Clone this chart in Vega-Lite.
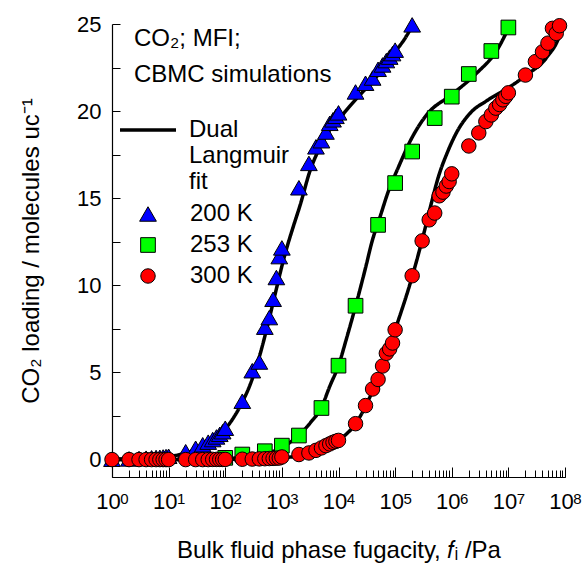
{
  "$schema": "https://vega.github.io/schema/vega-lite/v6.json",
  "width": 453,
  "height": 453,
  "autosize": {"type": "none"},
  "padding": {"left": 112, "top": 24, "right": 19, "bottom": 88},
  "background": "white",
  "config": {
    "view": {"stroke": null},
    "font": "Liberation Sans",
    "axis": {"grid": false, "domainColor": "black", "domainWidth": 1.2, "tickColor": "black", "tickWidth": 1, "labelColor": "black", "titleColor": "black", "labelFont": "Liberation Sans", "titleFont": "Liberation Sans", "titleFontWeight": "normal", "labelOverlap": false, "labelFlush": false, "labelBound": false},
    "legend": {"labelFont": "Liberation Sans", "labelColor": "black", "padding": 0}
  },
  "title": {
    "text": ["CO₂; MFI;", "CBMC simulations"],
    "anchor": "start",
    "frame": "group",
    "orient": "top",
    "offset": 0,
    "dx": 22,
    "dy": 93,
    "fontSize": 24,
    "fontWeight": "normal",
    "font": "Liberation Sans",
    "lineHeight": 36,
    "baseline": "alphabetic",
    "color": "black"
  },
  "datasets": {
    "points": [
      {"T": "200 K", "f": 1, "q": 0.02}, {"T": "200 K", "f": 2, "q": 0.04}, {"T": "200 K", "f": 3, "q": 0.06}, {"T": "200 K", "f": 4, "q": 0.08}, {"T": "200 K", "f": 5, "q": 0.1}, {"T": "200 K", "f": 6, "q": 0.12}, {"T": "200 K", "f": 7, "q": 0.13}, {"T": "200 K", "f": 8, "q": 0.15}, {"T": "200 K", "f": 9, "q": 0.17}, {"T": "200 K", "f": 10, "q": 0.19},
      {"T": "200 K", "f": 20, "q": 0.45}, {"T": "200 K", "f": 30, "q": 0.65}, {"T": "200 K", "f": 40, "q": 0.85}, {"T": "200 K", "f": 50, "q": 1.0}, {"T": "200 K", "f": 60, "q": 1.15}, {"T": "200 K", "f": 70, "q": 1.3}, {"T": "200 K", "f": 80, "q": 1.45}, {"T": "200 K", "f": 90, "q": 1.6}, {"T": "200 K", "f": 100, "q": 1.8},
      {"T": "200 K", "f": 200, "q": 3.35}, {"T": "200 K", "f": 300, "q": 5.1}, {"T": "200 K", "f": 400, "q": 5.6}, {"T": "200 K", "f": 500, "q": 7.6}, {"T": "200 K", "f": 600, "q": 8.15}, {"T": "200 K", "f": 700, "q": 9.2}, {"T": "200 K", "f": 800, "q": 10.45}, {"T": "200 K", "f": 900, "q": 11.65}, {"T": "200 K", "f": 1000, "q": 12.15},
      {"T": "200 K", "f": 2000, "q": 15.6}, {"T": "200 K", "f": 3000, "q": 17.0}, {"T": "200 K", "f": 4000, "q": 17.95}, {"T": "200 K", "f": 5000, "q": 18.3}, {"T": "200 K", "f": 6000, "q": 18.8}, {"T": "200 K", "f": 7000, "q": 19.3}, {"T": "200 K", "f": 8000, "q": 19.5}, {"T": "200 K", "f": 9000, "q": 19.7}, {"T": "200 K", "f": 10000, "q": 19.9},
      {"T": "200 K", "f": 20000, "q": 21.1}, {"T": "200 K", "f": 30000, "q": 21.6}, {"T": "200 K", "f": 40000, "q": 21.9}, {"T": "200 K", "f": 50000, "q": 22.4}, {"T": "200 K", "f": 60000, "q": 22.65}, {"T": "200 K", "f": 70000, "q": 22.9}, {"T": "200 K", "f": 80000, "q": 23.1}, {"T": "200 K", "f": 90000, "q": 23.3}, {"T": "200 K", "f": 100000, "q": 23.5},
      {"T": "200 K", "f": 200000, "q": 24.95},
      {"T": "253 K", "f": 100, "q": 0.1}, {"T": "253 K", "f": 200, "q": 0.29}, {"T": "253 K", "f": 500, "q": 0.48}, {"T": "253 K", "f": 1000, "q": 0.8}, {"T": "253 K", "f": 2000, "q": 1.38}, {"T": "253 K", "f": 5000, "q": 2.96}, {"T": "253 K", "f": 10000, "q": 5.39}, {"T": "253 K", "f": 20000, "q": 8.83}, {"T": "253 K", "f": 50000, "q": 13.47}, {"T": "253 K", "f": 100000, "q": 15.87}, {"T": "253 K", "f": 200000, "q": 17.68}, {"T": "253 K", "f": 500000, "q": 19.6}, {"T": "253 K", "f": 1000000, "q": 20.83}, {"T": "253 K", "f": 2000000, "q": 22.13}, {"T": "253 K", "f": 5000000, "q": 23.45}, {"T": "253 K", "f": 10000000, "q": 24.8},
      {"T": "300 K", "f": 1, "q": 0.0}, {"T": "300 K", "f": 2, "q": 0.0}, {"T": "300 K", "f": 3, "q": 0.0}, {"T": "300 K", "f": 4, "q": 0.0}, {"T": "300 K", "f": 5, "q": 0.0}, {"T": "300 K", "f": 6, "q": 0.0}, {"T": "300 K", "f": 7, "q": 0.0}, {"T": "300 K", "f": 8, "q": 0.0}, {"T": "300 K", "f": 9, "q": 0.0}, {"T": "300 K", "f": 10, "q": 0.0},
      {"T": "300 K", "f": 20, "q": 0.0}, {"T": "300 K", "f": 30, "q": 0.0}, {"T": "300 K", "f": 40, "q": 0.0}, {"T": "300 K", "f": 50, "q": 0.0}, {"T": "300 K", "f": 60, "q": 0.01}, {"T": "300 K", "f": 70, "q": 0.01}, {"T": "300 K", "f": 80, "q": 0.01}, {"T": "300 K", "f": 90, "q": 0.01}, {"T": "300 K", "f": 100, "q": 0.01},
      {"T": "300 K", "f": 200, "q": 0.02}, {"T": "300 K", "f": 300, "q": 0.03}, {"T": "300 K", "f": 400, "q": 0.04}, {"T": "300 K", "f": 500, "q": 0.05}, {"T": "300 K", "f": 600, "q": 0.06}, {"T": "300 K", "f": 700, "q": 0.07}, {"T": "300 K", "f": 800, "q": 0.08}, {"T": "300 K", "f": 900, "q": 0.09}, {"T": "300 K", "f": 1000, "q": 0.15},
      {"T": "300 K", "f": 2000, "q": 0.29}, {"T": "300 K", "f": 3000, "q": 0.38}, {"T": "300 K", "f": 4000, "q": 0.53}, {"T": "300 K", "f": 5000, "q": 0.67}, {"T": "300 K", "f": 6000, "q": 0.8}, {"T": "300 K", "f": 7000, "q": 0.9}, {"T": "300 K", "f": 8000, "q": 0.99}, {"T": "300 K", "f": 9000, "q": 1.05}, {"T": "300 K", "f": 10000, "q": 1.1},
      {"T": "300 K", "f": 20000, "q": 2.06}, {"T": "300 K", "f": 30000, "q": 3.1}, {"T": "300 K", "f": 40000, "q": 4.05}, {"T": "300 K", "f": 50000, "q": 4.6}, {"T": "300 K", "f": 60000, "q": 5.37}, {"T": "300 K", "f": 70000, "q": 6.1}, {"T": "300 K", "f": 80000, "q": 6.35}, {"T": "300 K", "f": 90000, "q": 6.69}, {"T": "300 K", "f": 100000, "q": 7.45},
      {"T": "300 K", "f": 200000, "q": 10.55}, {"T": "300 K", "f": 300000, "q": 12.55}, {"T": "300 K", "f": 400000, "q": 13.76}, {"T": "300 K", "f": 500000, "q": 14.15}, {"T": "300 K", "f": 600000, "q": 15.14}, {"T": "300 K", "f": 700000, "q": 15.35}, {"T": "300 K", "f": 800000, "q": 15.7}, {"T": "300 K", "f": 900000, "q": 15.96}, {"T": "300 K", "f": 1000000, "q": 16.4},
      {"T": "300 K", "f": 2000000, "q": 18.0}, {"T": "300 K", "f": 3000000, "q": 18.75}, {"T": "300 K", "f": 4000000, "q": 19.4}, {"T": "300 K", "f": 5000000, "q": 19.78}, {"T": "300 K", "f": 6000000, "q": 20.17}, {"T": "300 K", "f": 7000000, "q": 20.38}, {"T": "300 K", "f": 8000000, "q": 20.65}, {"T": "300 K", "f": 9000000, "q": 20.85}, {"T": "300 K", "f": 10000000, "q": 21.05},
      {"T": "300 K", "f": 20000000, "q": 22.07}, {"T": "300 K", "f": 30000000, "q": 22.84}, {"T": "300 K", "f": 40000000, "q": 23.4}, {"T": "300 K", "f": 50000000, "q": 23.9}, {"T": "300 K", "f": 60000000, "q": 24.75}, {"T": "300 K", "f": 70000000, "q": 24.46}, {"T": "300 K", "f": 80000000, "q": 24.9}
    ],
    "fits": [
      {"T": "200 K", "fit": "Dual Langmuir fit", "f": 1, "q": 0.02}, {"T": "200 K", "fit": "Dual Langmuir fit", "f": 10, "q": 0.18}, {"T": "200 K", "fit": "Dual Langmuir fit", "f": 20, "q": 0.38}, {"T": "200 K", "fit": "Dual Langmuir fit", "f": 50, "q": 0.92}, {"T": "200 K", "fit": "Dual Langmuir fit", "f": 100, "q": 1.75}, {"T": "200 K", "fit": "Dual Langmuir fit", "f": 200, "q": 3.3}, {"T": "200 K", "fit": "Dual Langmuir fit", "f": 275, "q": 4.3}, {"T": "200 K", "fit": "Dual Langmuir fit", "f": 400, "q": 5.9}, {"T": "200 K", "fit": "Dual Langmuir fit", "f": 550, "q": 7.6}, {"T": "200 K", "fit": "Dual Langmuir fit", "f": 800, "q": 9.8}, {"T": "200 K", "fit": "Dual Langmuir fit", "f": 1000, "q": 11.1}, {"T": "200 K", "fit": "Dual Langmuir fit", "f": 1260, "q": 12.3}, {"T": "200 K", "fit": "Dual Langmuir fit", "f": 1600, "q": 13.4}, {"T": "200 K", "fit": "Dual Langmuir fit", "f": 2100, "q": 14.6}, {"T": "200 K", "fit": "Dual Langmuir fit", "f": 3160, "q": 16.6}, {"T": "200 K", "fit": "Dual Langmuir fit", "f": 4500, "q": 17.8}, {"T": "200 K", "fit": "Dual Langmuir fit", "f": 6300, "q": 18.7}, {"T": "200 K", "fit": "Dual Langmuir fit", "f": 10000, "q": 19.5}, {"T": "200 K", "fit": "Dual Langmuir fit", "f": 16000, "q": 20.3}, {"T": "200 K", "fit": "Dual Langmuir fit", "f": 25000, "q": 21.0}, {"T": "200 K", "fit": "Dual Langmuir fit", "f": 40000, "q": 21.7}, {"T": "200 K", "fit": "Dual Langmuir fit", "f": 63000, "q": 22.5}, {"T": "200 K", "fit": "Dual Langmuir fit", "f": 100000, "q": 23.4}, {"T": "200 K", "fit": "Dual Langmuir fit", "f": 158000, "q": 24.3}, {"T": "200 K", "fit": "Dual Langmuir fit", "f": 200000, "q": 24.9},
      {"T": "253 K", "fit": "Dual Langmuir fit", "f": 1, "q": 0.001}, {"T": "253 K", "fit": "Dual Langmuir fit", "f": 10, "q": 0.006}, {"T": "253 K", "fit": "Dual Langmuir fit", "f": 100, "q": 0.06}, {"T": "253 K", "fit": "Dual Langmuir fit", "f": 200, "q": 0.13}, {"T": "253 K", "fit": "Dual Langmuir fit", "f": 500, "q": 0.33}, {"T": "253 K", "fit": "Dual Langmuir fit", "f": 1000, "q": 0.7}, {"T": "253 K", "fit": "Dual Langmuir fit", "f": 2000, "q": 1.4}, {"T": "253 K", "fit": "Dual Langmuir fit", "f": 3160, "q": 2.1}, {"T": "253 K", "fit": "Dual Langmuir fit", "f": 5000, "q": 3.0}, {"T": "253 K", "fit": "Dual Langmuir fit", "f": 7000, "q": 4.2}, {"T": "253 K", "fit": "Dual Langmuir fit", "f": 10000, "q": 5.4}, {"T": "253 K", "fit": "Dual Langmuir fit", "f": 14000, "q": 7.0}, {"T": "253 K", "fit": "Dual Langmuir fit", "f": 20000, "q": 8.8}, {"T": "253 K", "fit": "Dual Langmuir fit", "f": 30000, "q": 11.0}, {"T": "253 K", "fit": "Dual Langmuir fit", "f": 39000, "q": 12.5}, {"T": "253 K", "fit": "Dual Langmuir fit", "f": 55000, "q": 14.0}, {"T": "253 K", "fit": "Dual Langmuir fit", "f": 76000, "q": 15.4}, {"T": "253 K", "fit": "Dual Langmuir fit", "f": 115000, "q": 16.8}, {"T": "253 K", "fit": "Dual Langmuir fit", "f": 186000, "q": 18.3}, {"T": "253 K", "fit": "Dual Langmuir fit", "f": 363000, "q": 19.8}, {"T": "253 K", "fit": "Dual Langmuir fit", "f": 1000000, "q": 20.95}, {"T": "253 K", "fit": "Dual Langmuir fit", "f": 2800000, "q": 22.2}, {"T": "253 K", "fit": "Dual Langmuir fit", "f": 6300000, "q": 23.5}, {"T": "253 K", "fit": "Dual Langmuir fit", "f": 10000000, "q": 24.75},
      {"T": "300 K", "fit": "Dual Langmuir fit", "f": 1, "q": 0.0001}, {"T": "300 K", "fit": "Dual Langmuir fit", "f": 100, "q": 0.011}, {"T": "300 K", "fit": "Dual Langmuir fit", "f": 1000, "q": 0.11}, {"T": "300 K", "fit": "Dual Langmuir fit", "f": 3000, "q": 0.33}, {"T": "300 K", "fit": "Dual Langmuir fit", "f": 10000, "q": 1.1}, {"T": "300 K", "fit": "Dual Langmuir fit", "f": 20000, "q": 2.06}, {"T": "300 K", "fit": "Dual Langmuir fit", "f": 30000, "q": 3.05}, {"T": "300 K", "fit": "Dual Langmuir fit", "f": 40000, "q": 3.95}, {"T": "300 K", "fit": "Dual Langmuir fit", "f": 50000, "q": 4.7}, {"T": "300 K", "fit": "Dual Langmuir fit", "f": 70000, "q": 6.0}, {"T": "300 K", "fit": "Dual Langmuir fit", "f": 100000, "q": 7.45}, {"T": "300 K", "fit": "Dual Langmuir fit", "f": 200000, "q": 10.5}, {"T": "300 K", "fit": "Dual Langmuir fit", "f": 300000, "q": 12.6}, {"T": "300 K", "fit": "Dual Langmuir fit", "f": 420000, "q": 14.5}, {"T": "300 K", "fit": "Dual Langmuir fit", "f": 590000, "q": 16.3}, {"T": "300 K", "fit": "Dual Langmuir fit", "f": 830000, "q": 17.6}, {"T": "300 K", "fit": "Dual Langmuir fit", "f": 1230000, "q": 18.8}, {"T": "300 K", "fit": "Dual Langmuir fit", "f": 2140000, "q": 19.9}, {"T": "300 K", "fit": "Dual Langmuir fit", "f": 4170000, "q": 20.6}, {"T": "300 K", "fit": "Dual Langmuir fit", "f": 9550000, "q": 21.3}, {"T": "300 K", "fit": "Dual Langmuir fit", "f": 21400000, "q": 22.1}, {"T": "300 K", "fit": "Dual Langmuir fit", "f": 47900000, "q": 23.1}, {"T": "300 K", "fit": "Dual Langmuir fit", "f": 83000000, "q": 24.5}, {"T": "300 K", "fit": "Dual Langmuir fit", "f": 90000000, "q": 24.9}
    ]
  },
  "layer": [
    {
      "data": {"name": "fits"},
      "mark": {"type": "line", "color": "black", "strokeWidth": 3.5, "interpolate": "monotone"},
      "encoding": {
        "x": {"field": "f", "type": "quantitative", "scale": {"type": "log", "domain": [1, 100000000]},
          "axis": {"orient": "bottom", "values": [1, 10, 100, 1000, 10000, 100000, 1000000, 10000000, 100000000], "tickSize": -10, "labelExpr": "'10'", "labelFontSize": 22, "labelOffset": -4, "labelPadding": 24, "title": "Bulk fluid phase fugacity, 𝑓ᵢ /Pa", "titleFontSize": 24, "titlePadding": 26}},
        "y": {"field": "q", "type": "quantitative", "scale": {"domain": [-1, 25], "nice": false, "zero": false},
          "axis": {"values": [0, 2.5, 5, 7.5, 10, 12.5, 15, 17.5, 20, 22.5, 25], "tickSize": -8, "labelExpr": "datum.value % 5 === 0 ? datum.label : ''", "labelFontSize": 22, "labelPadding": 19, "title": "CO₂ loading / molecules uc⁻¹", "titleFontSize": 24, "titlePadding": 33}},
        "detail": {"field": "T"},
        "strokeDash": {"field": "fit", "type": "nominal", "scale": {"range": [[1, 0]]},
          "legend": {"orient": "none", "legendX": 6, "legendY": 76, "title": null, "symbolType": "M-1,0L1,0", "symbolSize": 3136, "symbolStrokeWidth": 3.5, "symbolStrokeColor": "black", "labelOffset": 11, "labelFontSize": 24, "labelBaseline": "middle", "labelExpr": "['Dual', 'Langmuir', 'fit']"}}
      }
    },
    {
      "data": {"name": "points"},
      "mark": {"type": "point", "filled": true, "stroke": "black", "strokeWidth": 1, "opacity": 1},
      "encoding": {
        "x": {"field": "f", "type": "quantitative", "scale": {"type": "log", "domain": [1, 100000000]},
          "axis": {"orient": "bottom", "domain": false, "values": [1,2,3,4,5,6,7,8,9,10,20,30,40,50,60,70,80,90,100,200,300,400,500,600,700,800,900,1000,2000,3000,4000,5000,6000,7000,8000,9000,10000,20000,30000,40000,50000,60000,70000,80000,90000,100000,200000,300000,400000,500000,600000,700000,800000,900000,1000000,2000000,3000000,4000000,5000000,6000000,7000000,8000000,9000000,10000000,20000000,30000000,40000000,50000000,60000000,70000000,80000000,90000000,100000000], "tickSize": -7, "labelExpr": "abs(log(datum.value)/LN10 - round(log(datum.value)/LN10)) < 0.001 ? format(round(log(datum.value)/LN10), 'd') : ''", "labelFontSize": 15, "labelOffset": 12, "labelPadding": 21, "title": null}},
        "y": {"field": "q", "type": "quantitative", "scale": {"domain": [-1, 25], "nice": false, "zero": false},
          "axis": {"values": [0, 2.5, 5, 7.5, 10, 12.5, 15, 17.5, 20, 22.5, 25], "tickSize": -8, "labelExpr": "datum.value % 5 === 0 ? datum.label : ''", "labelFontSize": 22, "labelPadding": 19, "title": "CO₂ loading / molecules uc⁻¹", "titleFontSize": 24, "titlePadding": 33}},
        "color": {"field": "T", "type": "nominal", "scale": {"domain": ["200 K", "253 K", "300 K"], "range": ["#0000ff", "#00ff00", "#ff0000"]},
          "legend": {"orient": "none", "legendX": 24, "legendY": 178, "title": null, "labelFontSize": 24, "labelOffset": 30, "rowPadding": 7, "symbolStrokeColor": "black", "symbolStrokeWidth": 1, "symbolOpacity": 1}},
        "shape": {"field": "T", "type": "nominal", "scale": {"domain": ["200 K", "253 K", "300 K"], "range": ["triangle-up", "square", "circle"]}},
        "size": {"field": "T", "type": "nominal", "scale": {"type": "ordinal", "domain": ["200 K", "253 K", "300 K"], "range": [280, 215, 210]}}
      }
    }
  ],
  "resolve": {"axis": {"x": "independent"}}
}
